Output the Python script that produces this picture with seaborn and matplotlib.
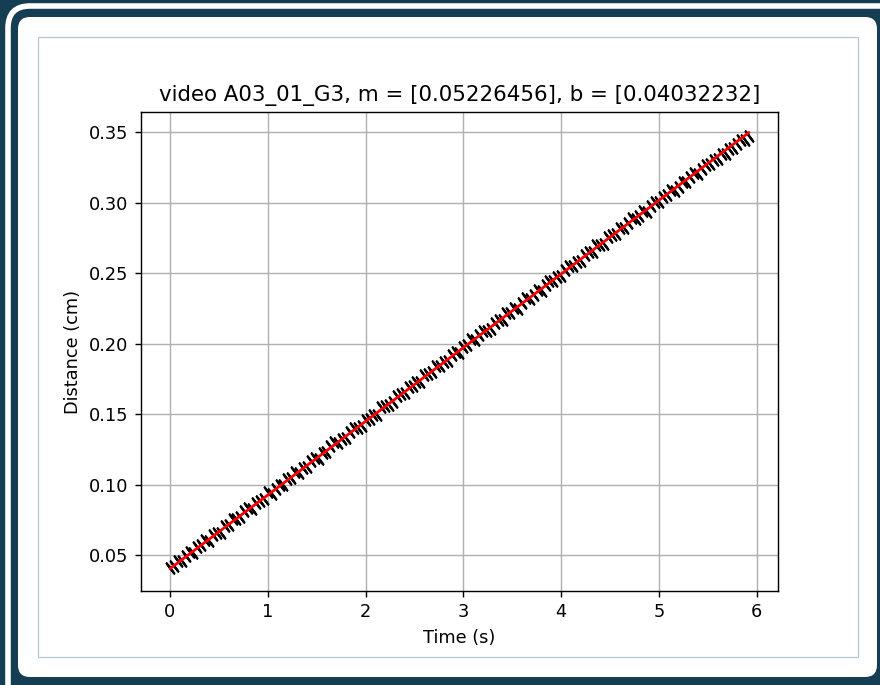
import matplotlib
matplotlib.use("Agg")
import matplotlib.pyplot as plt
import seaborn as sns
from matplotlib.patches import FancyBboxPatch, Rectangle
from matplotlib.transforms import IdentityTransform

# ---------------- data ----------------
time_s = [
    0.00, 0.04, 0.08, 0.12, 0.16, 0.20, 0.24, 0.28, 0.32, 0.36,
    0.40, 0.44, 0.48, 0.52, 0.56, 0.60, 0.64, 0.68, 0.72, 0.76,
    0.80, 0.84, 0.88, 0.92, 0.96, 1.00, 1.04, 1.08, 1.12, 1.16,
    1.20, 1.24, 1.28, 1.32, 1.36, 1.40, 1.44, 1.48, 1.52, 1.56,
    1.60, 1.64, 1.68, 1.72, 1.76, 1.80, 1.84, 1.88, 1.92, 1.96,
    2.00, 2.04, 2.08, 2.12, 2.16, 2.20, 2.24, 2.28, 2.32, 2.36,
    2.40, 2.44, 2.48, 2.52, 2.56, 2.60, 2.64, 2.68, 2.72, 2.76,
    2.80, 2.84, 2.88, 2.92, 2.96, 3.00, 3.04, 3.08, 3.12, 3.16,
    3.20, 3.24, 3.28, 3.32, 3.36, 3.40, 3.44, 3.48, 3.52, 3.56,
    3.60, 3.64, 3.68, 3.72, 3.76, 3.80, 3.84, 3.88, 3.92, 3.96,
    4.00, 4.04, 4.08, 4.12, 4.16, 4.20, 4.24, 4.28, 4.32, 4.36,
    4.40, 4.44, 4.48, 4.52, 4.56, 4.60, 4.64, 4.68, 4.72, 4.76,
    4.80, 4.84, 4.88, 4.92, 4.96, 5.00, 5.04, 5.08, 5.12, 5.16,
    5.20, 5.24, 5.28, 5.32, 5.36, 5.40, 5.44, 5.48, 5.52, 5.56,
    5.60, 5.64, 5.68, 5.72, 5.76, 5.80, 5.84, 5.88, 5.92,
]
distance_cm = [
    0.0411, 0.0419, 0.0457, 0.0457, 0.0491, 0.0523, 0.0517, 0.0556, 0.0568, 0.0609,
    0.0598, 0.0640, 0.0656, 0.0657, 0.0707, 0.0711, 0.0754, 0.0757, 0.0770, 0.0809,
    0.0834, 0.0826, 0.0868, 0.0885, 0.0897, 0.0945, 0.0936, 0.0971, 0.0999, 0.0995,
    0.1036, 0.1047, 0.1089, 0.1080, 0.1116, 0.1126, 0.1170, 0.1185, 0.1181, 0.1223,
    0.1233, 0.1272, 0.1301, 0.1292, 0.1326, 0.1330, 0.1374, 0.1401, 0.1402, 0.1416,
    0.1460, 0.1466, 0.1496, 0.1495, 0.1550, 0.1555, 0.1566, 0.1582, 0.1626, 0.1642,
    0.1647, 0.1694, 0.1698, 0.1727, 0.1726, 0.1775, 0.1787, 0.1795, 0.1844, 0.1840,
    0.1869, 0.1876, 0.1922, 0.1938, 0.1932, 0.1977, 0.1988, 0.2030, 0.2024, 0.2058,
    0.2088, 0.2090, 0.2102, 0.2148, 0.2164, 0.2167, 0.2219, 0.2220, 0.2251, 0.2248,
    0.2289, 0.2321, 0.2318, 0.2344, 0.2381, 0.2372, 0.2417, 0.2442, 0.2446, 0.2474,
    0.2481, 0.2524, 0.2552, 0.2548, 0.2580, 0.2584, 0.2631, 0.2646, 0.2650, 0.2700,
    0.2699, 0.2708, 0.2755, 0.2767, 0.2777, 0.2821, 0.2816, 0.2854, 0.2887, 0.2884,
    0.2902, 0.2939, 0.2936, 0.2978, 0.3006, 0.3002, 0.3038, 0.3052, 0.3088, 0.3081,
    0.3113, 0.3146, 0.3147, 0.3181, 0.3212, 0.3205, 0.3235, 0.3269, 0.3273, 0.3303,
    0.3308, 0.3342, 0.3347, 0.3379, 0.3386, 0.3416, 0.3443, 0.3446, 0.3471,
]
fit_m = 0.05226456
fit_b = 0.04032232
title_text = "video A03_01_G3, m = [0.05226456], b = [0.04032232]"
x_label = "Time (s)"
y_label = "Distance (cm)"
x_ticks = [0, 1, 2, 3, 4, 5, 6]
y_ticks = [0.05, 0.10, 0.15, 0.20, 0.25, 0.30, 0.35]

# ---------------- styling ----------------
sns.set_theme(style="whitegrid")
plt.rcParams["font.family"] = ["DejaVu Sans"]

W, H = 880, 685
S = 1.28  # scale of embedded matplotlib figure
NAVY = "#153e53"

fig = plt.figure(figsize=(W / 100, H / 100), dpi=100, facecolor=NAVY)

def box(x0, y0, x1, y1, **kw):
    return FancyBboxPatch((x0, H - y1), x1 - x0, y1 - y0,
                          transform=IdentityTransform(), **kw)

# outer white stroke
fig.add_artist(box(8, 6, 920, 720, boxstyle="round,pad=0,rounding_size=22",
                   facecolor="none", edgecolor="white", linewidth=4.0, zorder=-10))
# inner white panel
fig.add_artist(box(18, 17, 877, 677, boxstyle="round,pad=0,rounding_size=12",
                   facecolor="white", edgecolor="none", zorder=-9))
# screenshot border
fig.add_artist(Rectangle((38, H - 657), 820, 620, transform=IdentityTransform(),
                         facecolor="white", edgecolor="#b4c9d0", linewidth=0.9,
                         zorder=-8))

ax_l, ax_r, ax_t, ax_b = 141, 778, 112, 591
ax = fig.add_axes([ax_l / W, 1 - ax_b / H, (ax_r - ax_l) / W, (ax_b - ax_t) / H])
ax.set_facecolor("white")

sns.scatterplot(x=time_s, y=distance_cm, marker=(2, 2, 37), s=80, color="black",
                edgecolor="black", linewidth=1.6, ax=ax, zorder=2)
fit_y = [fit_m * t + fit_b for t in time_s]
sns.lineplot(x=time_s, y=fit_y, color="red", linewidth=2.0, ax=ax, zorder=3)

ax.set_xlim(-0.296, 6.216)
ax.set_ylim(0.0245, 0.3642)
ax.set_xticks(x_ticks)
ax.set_yticks(y_ticks)
ax.set_yticklabels([f"{v:.2f}" for v in y_ticks])

ax.grid(True, color="#b0b0b0", linewidth=0.8 * S)
ax.set_axisbelow(True)
for sp in ax.spines.values():
    sp.set_visible(True)
    sp.set_color("black")
    sp.set_linewidth(0.8 * S)
ax.tick_params(axis="both", direction="out", length=3.5 * S, width=0.8 * S,
               color="black", labelcolor="black", labelsize=10 * S, pad=3.5 * S,
               bottom=True, left=True)

ax.set_xlabel(x_label, fontsize=10 * S, color="black", labelpad=4 * S)
ax.set_ylabel(y_label, fontsize=10 * S, color="black", labelpad=4 * S)
ax.set_title(title_text, fontsize=12 * S, color="black", pad=6 * S)

fig.savefig("out.png", dpi=100, facecolor=NAVY)
